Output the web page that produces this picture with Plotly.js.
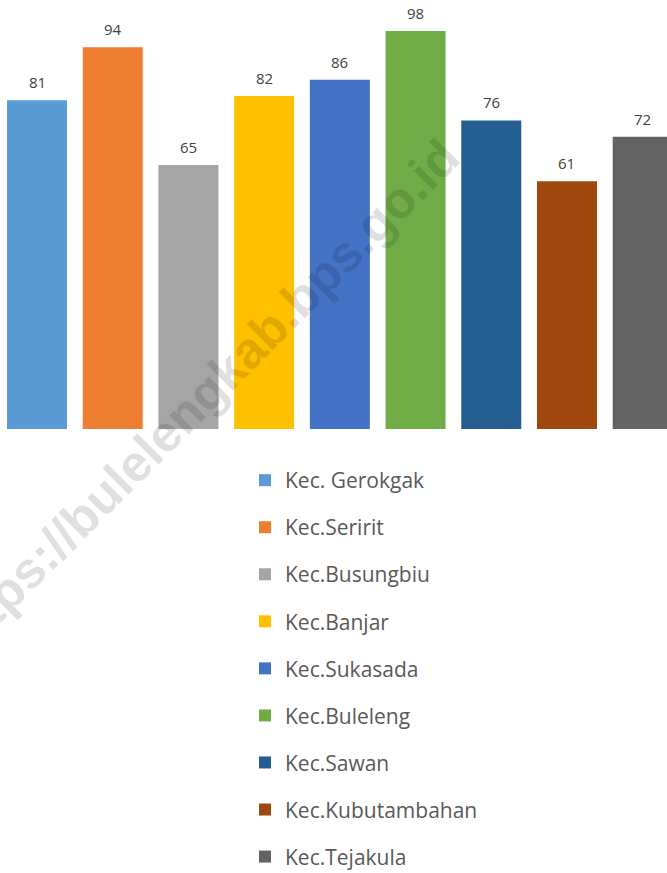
<!DOCTYPE html>
<html>
<head>
<meta charset="utf-8">
<script src="https://cdn.plot.ly/plotly-3.0.1.min.js"></script>
<style>
html,body{margin:0;padding:0;background:#fff;overflow:hidden;width:667px;height:873px;}
#chart{width:667px;height:900px;}
</style>
</head>
<body>
<div id="chart"></div>
<script>
const categories = ["Kec. Gerokgak","Kec.Seririt","Kec.Busungbiu","Kec.Banjar","Kec.Sukasada","Kec.Buleleng","Kec.Sawan","Kec.Kubutambahan","Kec.Tejakula"];
const values = [81, 94, 65, 82, 86, 98, 76, 61, 72];
const colors = ["#5B9BD5","#ED7D31","#A5A5A5","#FFC000","#4472C4","#70AD47","#255E91","#9E480E","#636363"];
const watermark = "https://bulelengkab.bps.go.id";

const traces = categories.map((c, i) => ({
  type: "bar",
  name: c,
  x: [c],
  y: [values[i]],
  marker: {color: colors[i]},
  legendgroup: "g" + i,
  hoverinfo: "skip"
}));

const annotations = categories.map((c, i) => ({
  x: c, y: values[i], xref: "x", yref: "y",
  text: String(values[i]), showarrow: false,
  yanchor: "middle", yshift: 18,
  font: {family: "Open Sans", size: 15, color: "#404040"}
}));
annotations.push({
  xref: "paper", yref: "paper", x: 200/667, y: 0.074,
  text: "<b>" + watermark + "</b>", showarrow: false, textangle: -45,
  font: {family: "Liberation Sans, Arial", size: 51, color: "rgba(0,0,0,0.12)"},
  xanchor: "center", yanchor: "middle"
});

const layout = {
  width: 667, height: 900,
  margin: {l: 0, r: 0, t: 23, b: 471},
  paper_bgcolor: "#fff", plot_bgcolor: "#fff",
  barmode: "overlay", bargap: 0.2075,
  xaxis: {type: "category", categoryorder: "array", categoryarray: categories,
          range: [-0.4887, 8.321], showticklabels: false, showgrid: false,
          zeroline: false, showline: false, ticks: ""},
  yaxis: {range: [0, 100], showticklabels: false, showgrid: false,
          zeroline: false, showline: false, ticks: ""},
  showlegend: true,
  legend: {x: 245/667, xanchor: "left", y: -0.0764, yanchor: "top",
           orientation: "v", tracegroupgap: 16.75, traceorder: "grouped",
           font: {family: "Open Sans", size: 21, color: "#595959"},
           bgcolor: "rgba(0,0,0,0)"},
  annotations: annotations
};

Plotly.newPlot("chart", traces, layout, {displayModeBar: false, staticPlot: true});
</script>
</body>
</html>
